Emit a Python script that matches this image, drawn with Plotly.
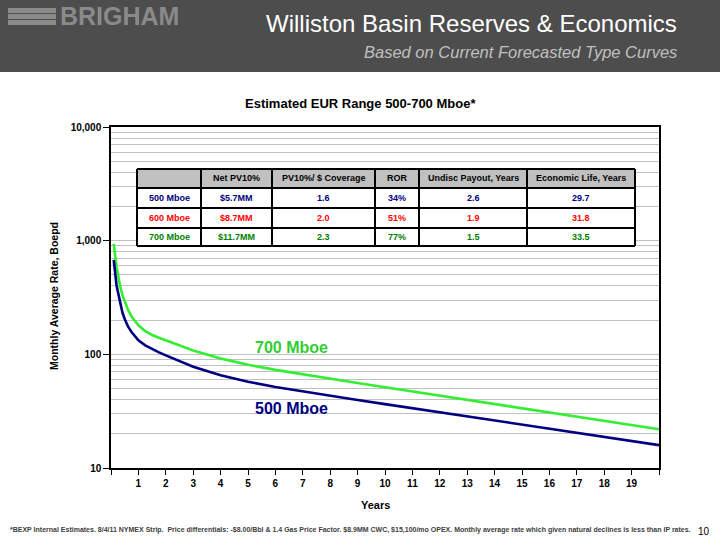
import plotly.graph_objects as go

# ---------------- data ----------------
years = [0.1, 0.15, 0.2, 0.25, 0.33, 0.42, 0.5, 0.62, 0.75, 0.87, 1, 1.25, 1.5, 1.75, 2, 2.5, 3,
         3.5, 4, 4.5, 5, 6, 7, 8, 9, 10, 11, 12, 13, 14, 15, 16, 17, 18, 19, 20]
rate_500 = [676, 500, 410, 356, 280, 232, 205, 176, 157, 144, 133, 120, 111, 104, 98, 87.4, 77.9,
            71.5, 65.6, 61.4, 57.4, 51.6, 47.1, 43.1, 39.6, 36.5, 33.6, 30.9, 28.5, 26.2, 24.1,
            22.2, 20.4, 18.8, 17.3, 15.9]
rate_700 = [937, 720, 590, 517, 400, 330, 290, 247, 215, 195, 180, 160, 148, 140, 133, 119.8, 108,
            99.6, 91.9, 86.3, 81, 73, 66.6, 61, 56, 51.4, 47.2, 43.3, 39.8, 36.5, 33.5, 30.8, 28.3,
            26, 23.8, 21.9]

x_ticks = list(range(0, 21))
x_tick_text = [""] + [str(i) for i in range(1, 20)] + [""]
y_ticks = [10, 100, 1000, 10000]
y_tick_text = ["10", "100", "1,000", "10,000"]

table_header = ["", "Net PV10%", "PV10%/ $ Coverage", "ROR", "Undisc Payout, Years",
                "Economic Life, Years"]
table_rows = ["500 Mboe", "600 Mboe", "700 Mboe"]
net_pv10 = ["$5.7MM", "$8.7MM", "$11.7MM"]
coverage = ["1.6", "2.0", "2.3"]
ror = ["34%", "51%", "77%"]
payout = ["2.6", "1.9", "1.5"]
econ_life = ["29.7", "31.8", "33.5"]
row_colors = ["#000080", "#ff0000", "#008000"]

FONT = "Liberation Sans, Arial, sans-serif"
W, H = 720, 540
# plot area in pixels
PL, PR, PT, PB = 111, 659, 127, 468
# table grid in pixels
TCOL = [137, 201, 272, 375, 419, 527, 635]
TROW = [169, 188, 208, 228, 246]


def px(x):
    return x / W


def py(y):
    return 1 - y / H


fig = go.Figure()

fig.add_trace(go.Scatter(x=years, y=rate_700, mode="lines", line=dict(color="#33ee33", width=2.6),
                         showlegend=False, hoverinfo="skip"))
fig.add_trace(go.Scatter(x=years, y=rate_500, mode="lines", line=dict(color="#000080", width=2.6),
                         showlegend=False, hoverinfo="skip"))

minor_vals = []
for d in [10, 100, 1000]:
    for m in range(2, 10):
        minor_vals.append(d * m)

fig.update_layout(
    width=W, height=H,
    margin=dict(l=0, r=0, t=0, b=0),
    paper_bgcolor="white", plot_bgcolor="white",
    font=dict(family=FONT, color="black"),
    xaxis=dict(domain=[px(PL), px(PR)], range=[0, 20], tickvals=x_ticks, ticktext=x_tick_text,
               ticks="outside", ticklen=5, tickcolor="black", tickwidth=1,
               showline=True, linecolor="black", linewidth=1.5, mirror=True,
               showgrid=False, zeroline=False, automargin=False,
               tickfont=dict(family=FONT, size=10, weight="bold", color="black")),
    yaxis=dict(domain=[py(PB), py(PT)], type="log", range=[1, 4], tickvals=y_ticks, ticktext=y_tick_text,
               ticks="outside", ticklen=6, tickcolor="black", tickwidth=1,
               showline=True, linecolor="black", linewidth=1.5, mirror=True,
               showgrid=True, gridcolor="#c0c0c0", gridwidth=1, zeroline=False, automargin=False,
               minor=dict(tickvals=minor_vals, showgrid=True, gridcolor="#c0c0c0", gridwidth=1, ticks=""),
               tickfont=dict(family=FONT, size=10, weight="bold", color="black")),
)

shapes = [
    # header band
    dict(type="rect", xref="paper", yref="paper", x0=0, x1=1, y0=py(72), y1=1,
         fillcolor="#4d4d4d", line=dict(width=0), layer="below"),
]
# logo bars
for (y0, y1) in [(8, 13), (14, 19), (20, 25)]:
    shapes.append(dict(type="rect", xref="paper", yref="paper", x0=px(8), x1=px(56), y0=py(y1), y1=py(y0),
                       fillcolor="#8a8a8a", line=dict(width=0)))

# table: background, header fill, grid lines
shapes.append(dict(type="rect", xref="paper", yref="paper", x0=px(TCOL[0]), x1=px(TCOL[-1]),
                   y0=py(TROW[-1]), y1=py(TROW[0]), fillcolor="white", line=dict(width=0)))
shapes.append(dict(type="rect", xref="paper", yref="paper", x0=px(TCOL[0]), x1=px(TCOL[-1]),
                   y0=py(TROW[1]), y1=py(TROW[0]), fillcolor="#c0c0c0", line=dict(width=0)))
for xc in TCOL:
    shapes.append(dict(type="line", xref="paper", yref="paper", x0=px(xc), x1=px(xc),
                       y0=py(TROW[-1]), y1=py(TROW[0]), line=dict(color="black", width=2)))
for yr in TROW:
    shapes.append(dict(type="line", xref="paper", yref="paper", x0=px(TCOL[0]), x1=px(TCOL[-1]),
                       y0=py(yr), y1=py(yr), line=dict(color="black", width=2)))
fig.update_layout(shapes=shapes)

ann = [
    dict(text="BRIGHAM", x=px(58), y=py(16), xanchor="left", yanchor="middle",
         font=dict(family=FONT, size=25, color="#8a8a8a", weight="bold")),
    dict(text="Williston Basin Reserves & Economics", x=px(679), y=py(24), xanchor="right", yanchor="middle",
         font=dict(family=FONT, size=24, color="white")),
    dict(text="<i>Based on Current Forecasted Type Curves</i>", x=px(679), y=py(52), xanchor="right",
         yanchor="middle", font=dict(family=FONT, size=16.5, color="#c0c0c0")),
    dict(text="Estimated EUR Range 500-700 Mboe*", x=px(360), y=py(103), xanchor="center", yanchor="middle",
         font=dict(family=FONT, size=13, color="black", weight="bold")),
    dict(text="Monthly Average Rate, Boepd", x=px(54), y=py(296), xanchor="center", yanchor="middle",
         textangle=-90, font=dict(family=FONT, size=10.5, color="black", weight="bold")),
    dict(text="Years", x=px(375), y=py(505), xanchor="center", yanchor="middle",
         font=dict(family=FONT, size=11, color="black", weight="bold")),
    dict(text="*BEXP Internal Estimates. 8/4/11 NYMEX Strip.  Price differentials: -$8.00/Bbl &amp; 1.4 Gas Price Factor. "
              "$8.9MM CWC, $15,100/mo OPEX. Monthly average rate which given natural declines is less than IP rates.",
         x=px(8), y=py(530), xanchor="left", yanchor="middle",
         font=dict(family=FONT, size=7, color="#404040", weight="bold")),
    dict(text="10", x=px(712), y=py(531), xanchor="right", yanchor="middle",
         font=dict(family=FONT, size=10, color="black")),
    dict(text="700 Mboe", x=6.6, y=2.056, xref="x", yref="y", xanchor="center", yanchor="middle",
         font=dict(family=FONT, size=16, color="#33cc33", weight="bold")),
    dict(text="500 Mboe", x=6.6, y=1.52, xref="x", yref="y", xanchor="center", yanchor="middle",
         font=dict(family=FONT, size=16, color="#000080", weight="bold")),
]

# table texts
cols = [table_rows, net_pv10, coverage, ror, payout, econ_life]
for ci, head in enumerate(table_header):
    xc = (TCOL[ci] + TCOL[ci + 1]) / 2
    if head:
        ann.append(dict(text=head, x=px(xc), y=py((TROW[0] + TROW[1]) / 2), xanchor="center", yanchor="middle",
                        font=dict(family=FONT, size=9, color="black", weight="bold")))
    for ri, val in enumerate(cols[ci]):
        ann.append(dict(text=val, x=px(xc), y=py((TROW[ri + 1] + TROW[ri + 2]) / 2),
                        xanchor="center", yanchor="middle",
                        font=dict(family=FONT, size=9, color=row_colors[ri], weight="bold")))

for a in ann:
    a.setdefault("xref", "paper")
    a.setdefault("yref", "paper")
    a["showarrow"] = False
fig.update_layout(annotations=ann)

fig.write_html("out.html")
